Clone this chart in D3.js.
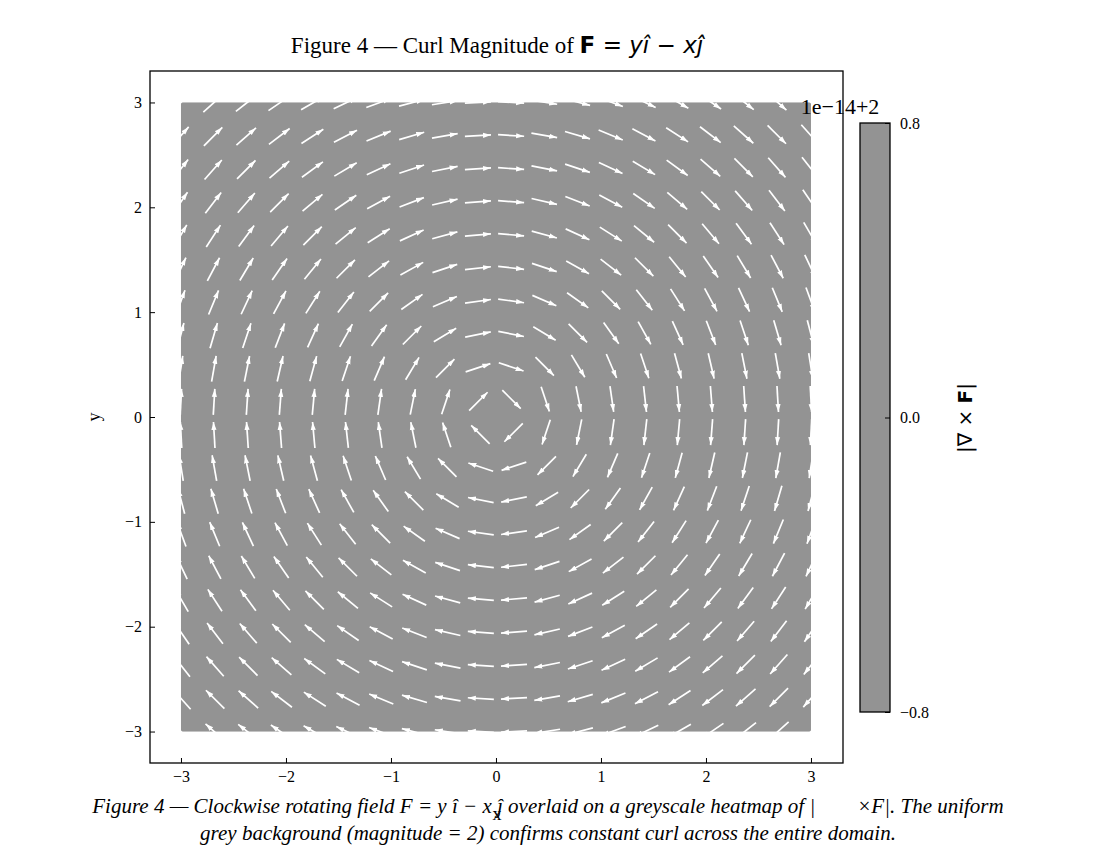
<!DOCTYPE html>
<html><head><meta charset="utf-8">
<script src="https://cdn.jsdelivr.net/npm/d3@7"></script>
<style>body{margin:0;background:#fff;}</style>
</head><body>
<div class="canvas"></div>
<script>
// grid sample values (linspace(-3, 3, 20))
const gridVals = d3.range(20).map(i => -3 + i * 6 / 19);
const ticks = [-3, -2, -1, 0, 1, 2, 3];
const cbTicks = [-0.8, 0.0, 0.8];
const curlValue = 2;

const svg = d3.select('.canvas').append('svg').attr('width', 1096).attr('height', 865)
    .attr('font-family', 'Liberation Serif');

const x = d3.scaleLinear().domain([-3.295, 3.305]).range([150, 843]);
const y = d3.scaleLinear().domain([-3.3, 3.3]).range([763, 71]);

// heatmap (uniform)
svg.append('rect')
    .attr('x', x(-3)).attr('y', y(3))
    .attr('width', x(3) - x(-3)).attr('height', y(-3) - y(3))
    .attr('fill', '#939393');

// arrowhead
svg.append('defs').append('marker')
    .attr('id', 'head').attr('viewBox', '0 0 10 10')
    .attr('refX', 10).attr('refY', 5)
    .attr('markerWidth', 8).attr('markerHeight', 8)
    .attr('markerUnits', 'userSpaceOnUse')
    .attr('orient', 'auto')
    .append('path').attr('d', 'M0,1.8L10,5L0,8.2Z').attr('fill', '#fff');

const pts = [];
gridVals.forEach(gx => gridVals.forEach(gy => pts.push({ gx, gy })));
const L = 29;
svg.append('g').selectAll('line').data(pts).enter().append('line')
    .each(function (d) {
        const u = d.gy, v = -d.gx;
        const m = Math.hypot(u, v);
        const dx = u / m * L / 2, dy = -v / m * L / 2;
        const cx = x(d.gx), cy = y(d.gy);
        d3.select(this).attr('x1', cx - dx).attr('y1', cy - dy)
            .attr('x2', cx + dx * 0.8).attr('y2', cy + dy * 0.8);
    })
    .attr('stroke', '#fff').attr('stroke-width', 1.7)
    .attr('marker-end', 'url(#head)');

const fmt = d => d < 0 ? '\u2212' + (-d) : d;
// axes
svg.append('g').attr('transform', `translate(0,${763})`)
    .call(d3.axisBottom(x).tickValues(ticks).tickSizeInner(-5).tickSizeOuter(0).tickPadding(8).tickFormat(fmt))
    .call(g => g.select('.domain').remove())
    .selectAll('text').attr('font-size', 16).attr('font-family', 'Liberation Serif');
svg.append('g').attr('transform', `translate(150,0)`)
    .call(d3.axisLeft(y).tickValues(ticks).tickSizeInner(-5).tickSizeOuter(0).tickPadding(8).tickFormat(fmt))
    .call(g => g.select('.domain').remove())
    .selectAll('text').attr('font-size', 16).attr('font-family', 'Liberation Serif');
svg.selectAll('.tick line').attr('stroke', '#000');
svg.append('rect').attr('x', 150).attr('y', 71).attr('width', 693).attr('height', 692)
    .attr('fill', 'none').attr('stroke', '#000').attr('stroke-width', 1.3);

svg.append('text').attr('x', 497).attr('y', 820).attr('text-anchor', 'middle').attr('font-size', 18).text('x');
svg.append('text').attr('transform', 'translate(100,417) rotate(-90)').attr('text-anchor', 'middle')
    .attr('font-size', 18).text('y');

// title
const t = svg.append('text').attr('x', 497).attr('y', 53).attr('text-anchor', 'middle').attr('font-size', 23);
t.append('tspan').text('Figure 4 \u2014 Curl Magnitude of  ');
t.append('tspan').attr('font-family', 'DejaVu Sans').attr('font-weight', 'bold').text('F');
t.append('tspan').attr('font-family', 'DejaVu Sans').text(' = ');
t.append('tspan').attr('font-family', 'DejaVu Sans').attr('font-style', 'italic').text('y\u00EE \u2212 x\u0135');

// colorbar
const cb = d3.scaleLinear().domain([-0.8, 0.8]).range([712, 123]);
svg.append('rect').attr('x', 860).attr('y', 123).attr('width', 30).attr('height', 589)
    .attr('fill', '#939393').attr('stroke', '#000').attr('stroke-width', 1.3);
const cbAxis = svg.append('g').attr('transform', 'translate(890,0)')
    .call(d3.axisRight(cb).tickValues(cbTicks).tickSize(-5).tickPadding(10)
        .tickFormat(d => d < 0 ? '\u2212' + d3.format('.1f')(-d) : d3.format('.1f')(d)));
cbAxis.select('.domain').remove();
cbAxis.selectAll('text').attr('font-size', 16).attr('font-family', 'Liberation Serif');
cbAxis.selectAll('.tick line').attr('stroke', '#000');
svg.append('text').attr('x', 840).attr('y', 114).attr('text-anchor', 'middle').attr('font-size', 22)
    .text('1e\u221214+' + curlValue);
svg.append('text').attr('transform', 'translate(972,418) rotate(-90)').attr('text-anchor', 'middle')
    .attr('font-size', 20).attr('font-family', 'DejaVu Sans')
    .html('|\u2207 \u00D7 <tspan font-weight="bold">F</tspan>|');

// caption
const cap = ['Figure 4 \u2014 Clockwise rotating field F = y \u00EE \u2212 x \u0135 overlaid on a greyscale heatmap of |\u2003\u2003\u00D7F|. The uniform',
    'grey background (magnitude = 2) confirms constant curl across the entire domain.'];
svg.selectAll('.cap').data(cap).enter().append('text')
    .attr('x', 548).attr('y', (d, i) => 813 + i * 27).attr('text-anchor', 'middle')
    .attr('font-size', 21).attr('font-style', 'italic').text(d => d);
</script>
</body></html>
